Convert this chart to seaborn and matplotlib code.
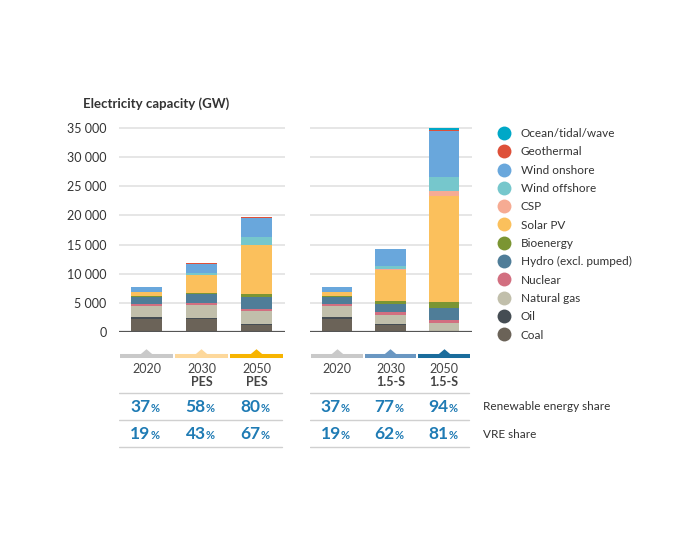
import numpy as np
import pandas as pd
import matplotlib
matplotlib.use('Agg')
import matplotlib.pyplot as plt
from matplotlib.lines import Line2D
import seaborn as sns

# capacity in GW (bottom layer first)
techs = ['Coal', 'Oil', 'Natural gas', 'Nuclear', 'Hydro (excl. pumped)', 'Bioenergy',
         'Solar PV', 'CSP', 'Wind offshore', 'Wind onshore', 'Geothermal', 'Ocean/tidal/wave']
tech_colors = ['#6b6358', '#454d53', '#c1bfab', '#d26f80', '#4f7d98', '#7b9533',
               '#fbc05c', '#f6ab93', '#76c7cc', '#69a7dc', '#de5039', '#00a8c7']

pes_labels = ['2020', '2030 PES', '2050 PES']
pes_2020 = [2200, 350, 1850, 400, 1250, 130, 720, 6, 35, 720, 15, 1]
pes_2030 = [2150, 300, 2100, 460, 1430, 230, 3030, 50, 280, 1710, 40, 5]
pes_2050 = [1140, 280, 2120, 460, 2000, 460, 8400, 100, 1260, 3370, 100, 10]

ss_labels = ['2020', '2030 1.5-S', '2050 1.5-S']
ss_2020 = pes_2020
ss_2030 = [1140, 170, 1660, 460, 1430, 400, 5430, 100, 570, 2860, 80, 5]
ss_2050 = [30, 20, 1540, 400, 2170, 1050, 18100, 910, 2400, 7770, 300, 330]

years = ['2020', '2030', '2050']
pes_names = ['', 'PES', 'PES']
ss_names = ['', '1.5-S', '1.5-S']
pes_strip = ['#c9c9c9', '#fdd89b', '#f7b400']
ss_strip = ['#c9c9c9', '#6a97c2', '#1a6c9c']

pes_re = [37, 58, 80]
pes_vre = [19, 43, 67]
ss_re = [37, 77, 94]
ss_vre = [19, 62, 81]

sns.set_theme(style='white')
plt.rcParams['font.family'] = ['Lato', 'DejaVu Sans']

txt = '#333333'
blue = '#1f7bb4'
tri = [(-1, 0), (0, 0.85), (1, 0)]


def stacked(ax, labels, cols):
    df = pd.DataFrame(dict(zip(labels, cols)), index=techs)
    cum = df.cumsum()
    # draw from top layer down so lower layers sit over the taller bars
    for i in range(len(techs) - 1, -1, -1):
        sns.barplot(x=labels, y=cum.iloc[i].values, order=labels, color=tech_colors[i],
                    saturation=1, width=0.57, linewidth=0, ax=ax)
    ax.set_ylim(0, 36000)
    ax.set_xlim(-0.5, 2.52)
    ax.set_yticks(range(0, 35001, 5000))
    ax.yaxis.grid(True, color='#e2e2e2', lw=1.2)
    ax.set_axisbelow(True)
    ax.axhline(0, color='#555555', lw=1.6, zorder=5)
    sns.despine(ax=ax, left=True, bottom=True)
    ax.set_xticks([])
    ax.set_xlabel('')
    ax.set_ylabel('')
    ax.tick_params(axis='y', length=0, pad=9, labelsize=9, labelcolor=txt)


def table(ax, names, strips, re, vre):
    ax.set_xlim(-0.5, 2.52)
    ax.set_ylim(452, 345)
    ax.axis('off')
    for i in range(3):
        ax.plot([i - 0.48, i + 0.48], [356, 356], color=strips[i], lw=2.9,
                solid_capstyle='butt')
        ax.scatter([i], [354.5], marker=tri, s=80, color=strips[i], lw=0)
        ax.text(i, 369, years[i], ha='center', va='center', fontsize=9, color='#444444')
        ax.text(i, 382.5, names[i], ha='center', va='center', fontsize=9,
                color='#444444', weight='bold')
        for yy, val in [(407, re[i]), (434, vre[i])]:
            t = ax.annotate(str(val), xy=(i, yy), xytext=(3, 0), textcoords='offset points',
                            ha='right', va='center', fontsize=12.5, color=blue, weight='bold')
            ax.annotate('%', xy=(1, 0.08), xycoords=t, ha='left', va='bottom',
                        fontsize=8, color=blue, weight='bold')
    for yy in [393, 420, 447]:
        ax.plot([-0.5, 2.47], [yy, yy], color='#d0d0d0', lw=1)


fig = plt.figure(figsize=(7, 5.5), dpi=100)
W, H = 700, 550
axL = fig.add_axes([119 / W, 1 - 332 / H, 166 / W, 210 / H])
axR = fig.add_axes([310 / W, 1 - 332 / H, 162 / W, 210 / H])

stacked(axL, pes_labels, [pes_2020, pes_2030, pes_2050])
stacked(axR, ss_labels, [ss_2020, ss_2030, ss_2050])
axL.set_yticklabels([f'{v:,}'.replace(',', ' ') for v in range(0, 35001, 5000)])
axR.set_yticklabels([])

fig.text(83 / W, 1 - 104 / H, 'Electricity capacity (GW)', fontsize=9.5,
         weight='bold', color=txt, va='center')

tbL = fig.add_axes([119 / W, 1 - 452 / H, 166 / W, 107 / H])
tbR = fig.add_axes([310 / W, 1 - 452 / H, 162 / W, 107 / H])
table(tbL, pes_names, pes_strip, pes_re, pes_vre)
table(tbR, ss_names, ss_strip, ss_re, ss_vre)

fig.text(483 / W, 1 - 407 / H, 'Renewable energy share', fontsize=8.5, color=txt, va='center')
fig.text(483 / W, 1 - 434 / H, 'VRE share', fontsize=8.5, color=txt, va='center')

handles = [Line2D([], [], marker='o', ls='', markersize=10, color=c, mew=0)
           for c in tech_colors[::-1]]
fig.legend(handles, techs[::-1], loc='upper left', bbox_to_anchor=(497 / W, 1 - 128 / H),
           frameon=False, fontsize=8.5, labelspacing=0.62, handletextpad=0.8,
           borderaxespad=0, borderpad=0, labelcolor=txt, handlelength=1.2)

fig.savefig('out.png', dpi=100)
